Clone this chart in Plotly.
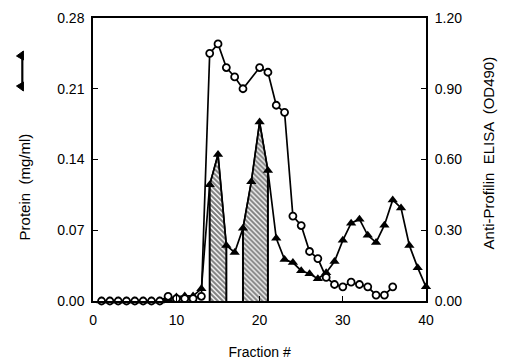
import plotly.graph_objects as go

# ---- data ----
fraction = list(range(1, 41))
protein = [0.0, 0.0, 0.0, 0.0, 0.0, 0.0, 0.0, 0.0, 0.002, 0.004,
           0.005, 0.005, 0.012, 0.115, 0.145, 0.055, 0.048, 0.072, 0.118, 0.177,
           0.129, 0.062, 0.041, 0.038, 0.030, 0.027, 0.022, 0.028, 0.039, 0.060,
           0.077, 0.081, 0.065, 0.058, 0.075, 0.100, 0.092, 0.055, 0.033, 0.014]

elisa_fraction = [1, 2, 3, 4, 5, 6, 7, 8, 9, 10, 11, 12, 13, 14, 15, 16, 17, 18,
                  20, 21, 22, 23, 24, 25, 26, 27, 28, 29, 30, 31, 32, 33, 34, 35, 36]
elisa = [0.0, 0.0, 0.0, 0.0, 0.0, 0.0, 0.0, 0.0, 0.02, 0.01, 0.01, 0.01, 0.02,
         1.05, 1.09, 0.99, 0.95, 0.90,
         0.99, 0.97, 0.83, 0.80, 0.36, 0.32, 0.21, 0.18, 0.10, 0.07, 0.06, 0.08,
         0.07, 0.06, 0.025, 0.025, 0.06]

shaded_ranges = [(14, 16), (18, 21)]

x_ticks = [0, 10, 20, 30, 40]
left_ticks = [0.0, 0.07, 0.14, 0.21, 0.28]
right_ticks = [0.0, 0.30, 0.60, 0.90, 1.20]

FONT = "Liberation Sans, Arial, Helvetica, sans-serif"

fig = go.Figure()

# hatched areas under protein peaks
for lo, hi in shaded_ranges:
    xs = [f for f in fraction if lo <= f <= hi]
    ys = [protein[fraction.index(f)] for f in xs]
    fig.add_trace(go.Scatter(
        x=xs, y=ys, mode="lines", fill="tozeroy",
        line=dict(color="black", width=1.5),
        fillcolor="white",
        fillpattern=dict(shape="\\", fgcolor="black", bgcolor="white",
                         size=3.5, solidity=0.6),
        showlegend=False, hoverinfo="skip"))
    # vertical edges
    fig.add_trace(go.Scatter(
        x=[xs[0], xs[0], None, xs[-1], xs[-1]],
        y=[0, ys[0], None, 0, ys[-1]],
        mode="lines", line=dict(color="black", width=2),
        showlegend=False, hoverinfo="skip"))

# ELISA (open circles, right axis)
fig.add_trace(go.Scatter(
    x=elisa_fraction, y=elisa, mode="lines+markers", yaxis="y2",
    cliponaxis=False,
    line=dict(color="black", width=1.7),
    marker=dict(symbol="circle", size=7, color="white",
                line=dict(color="black", width=1.8)),
    showlegend=False))

# Protein (filled triangles, left axis)
fig.add_trace(go.Scatter(
    x=fraction, y=protein, mode="lines+markers",
    cliponaxis=False,
    line=dict(color="black", width=1.7),
    marker=dict(symbol="triangle-up", size=9, color="black"),
    showlegend=False))

# page has an 8px body margin; plot area should land at x 90..426, y 18..301
OFF = 8
FW, FH = 511 - OFF, 360 - OFF
ML, MR, MT, MB = 2, 85, 18 - OFF, 59
PW = FW - ML - MR           # paper width (px)
PH = FH - MT - MB           # paper height (px)
PAGE_X0 = OFF + ML          # page x of paper x=0
DOM0 = (90 - PAGE_X0) / PW  # x-axis domain start


def px(x):
    return (x - PAGE_X0) / PW


def py(y):
    return (301 - y) / PH


shapes = [
    dict(type="rect", xref="paper", yref="paper", layer="above",
         x0=px(17.3), x1=px(19.5), y0=py(54), y1=py(89),
         fillcolor="black", line=dict(width=0)),
    dict(type="path", xref="paper", yref="paper", layer="above",
         path=f"M {px(19.5)},{py(51)} L {px(19.5)},{py(60)} L {px(12.5)},{py(56)} Z",
         fillcolor="black", line=dict(color="black", width=1)),
    dict(type="path", xref="paper", yref="paper", layer="above",
         path=f"M {px(19.5)},{py(82)} L {px(19.5)},{py(91)} L {px(12.5)},{py(86)} Z",
         fillcolor="black", line=dict(color="black", width=1)),
]

annotations = [
    dict(text="Protein  (mg/ml)", xref="paper", yref="paper",
         x=px(20.5), y=py(187), xanchor="center", yanchor="middle",
         textangle=-90, showarrow=False, font=dict(size=15)),
    dict(text="Anti-Profilin  ELISA  (OD490)", xref="paper", yref="paper",
         x=px(490), y=py(153), xanchor="center", yanchor="middle",
         textangle=-90, showarrow=False, font=dict(size=15)),
]

fig.update_layout(
    width=FW, height=FH,
    margin=dict(l=ML, r=MR, t=MT, b=MB),
    paper_bgcolor="white", plot_bgcolor="white",
    font=dict(family=FONT, size=13, color="black"),
    shapes=shapes,
    annotations=annotations,
    xaxis=dict(domain=[DOM0, 1], range=[0, 40], tickvals=x_ticks,
               ticks="inside", ticklen=5,
               tickwidth=1, tickcolor="black", ticklabelstandoff=5,
               showline=True, linecolor="black", linewidth=2, mirror=True,
               showgrid=False, zeroline=False,
               tickfont=dict(size=14),
               title=dict(text="Fraction #", font=dict(size=14), standoff=20)),
    yaxis=dict(range=[0, 0.28], tickvals=left_ticks, tickformat=".2f",
               ticks="inside", ticklen=5, tickcolor="black", ticklabelstandoff=4,
               showline=True, linecolor="black", linewidth=2,
               showgrid=False, zeroline=False, tickfont=dict(size=14)),
    yaxis2=dict(range=[0, 1.2], tickvals=right_ticks, tickformat=".2f",
                overlaying="y", side="right",
                ticks="inside", ticklen=5, tickcolor="black", ticklabelstandoff=4,
                showline=True, linecolor="black", linewidth=2,
                showgrid=False, zeroline=False, tickfont=dict(size=14)),
)

fig.write_html("out.html")
